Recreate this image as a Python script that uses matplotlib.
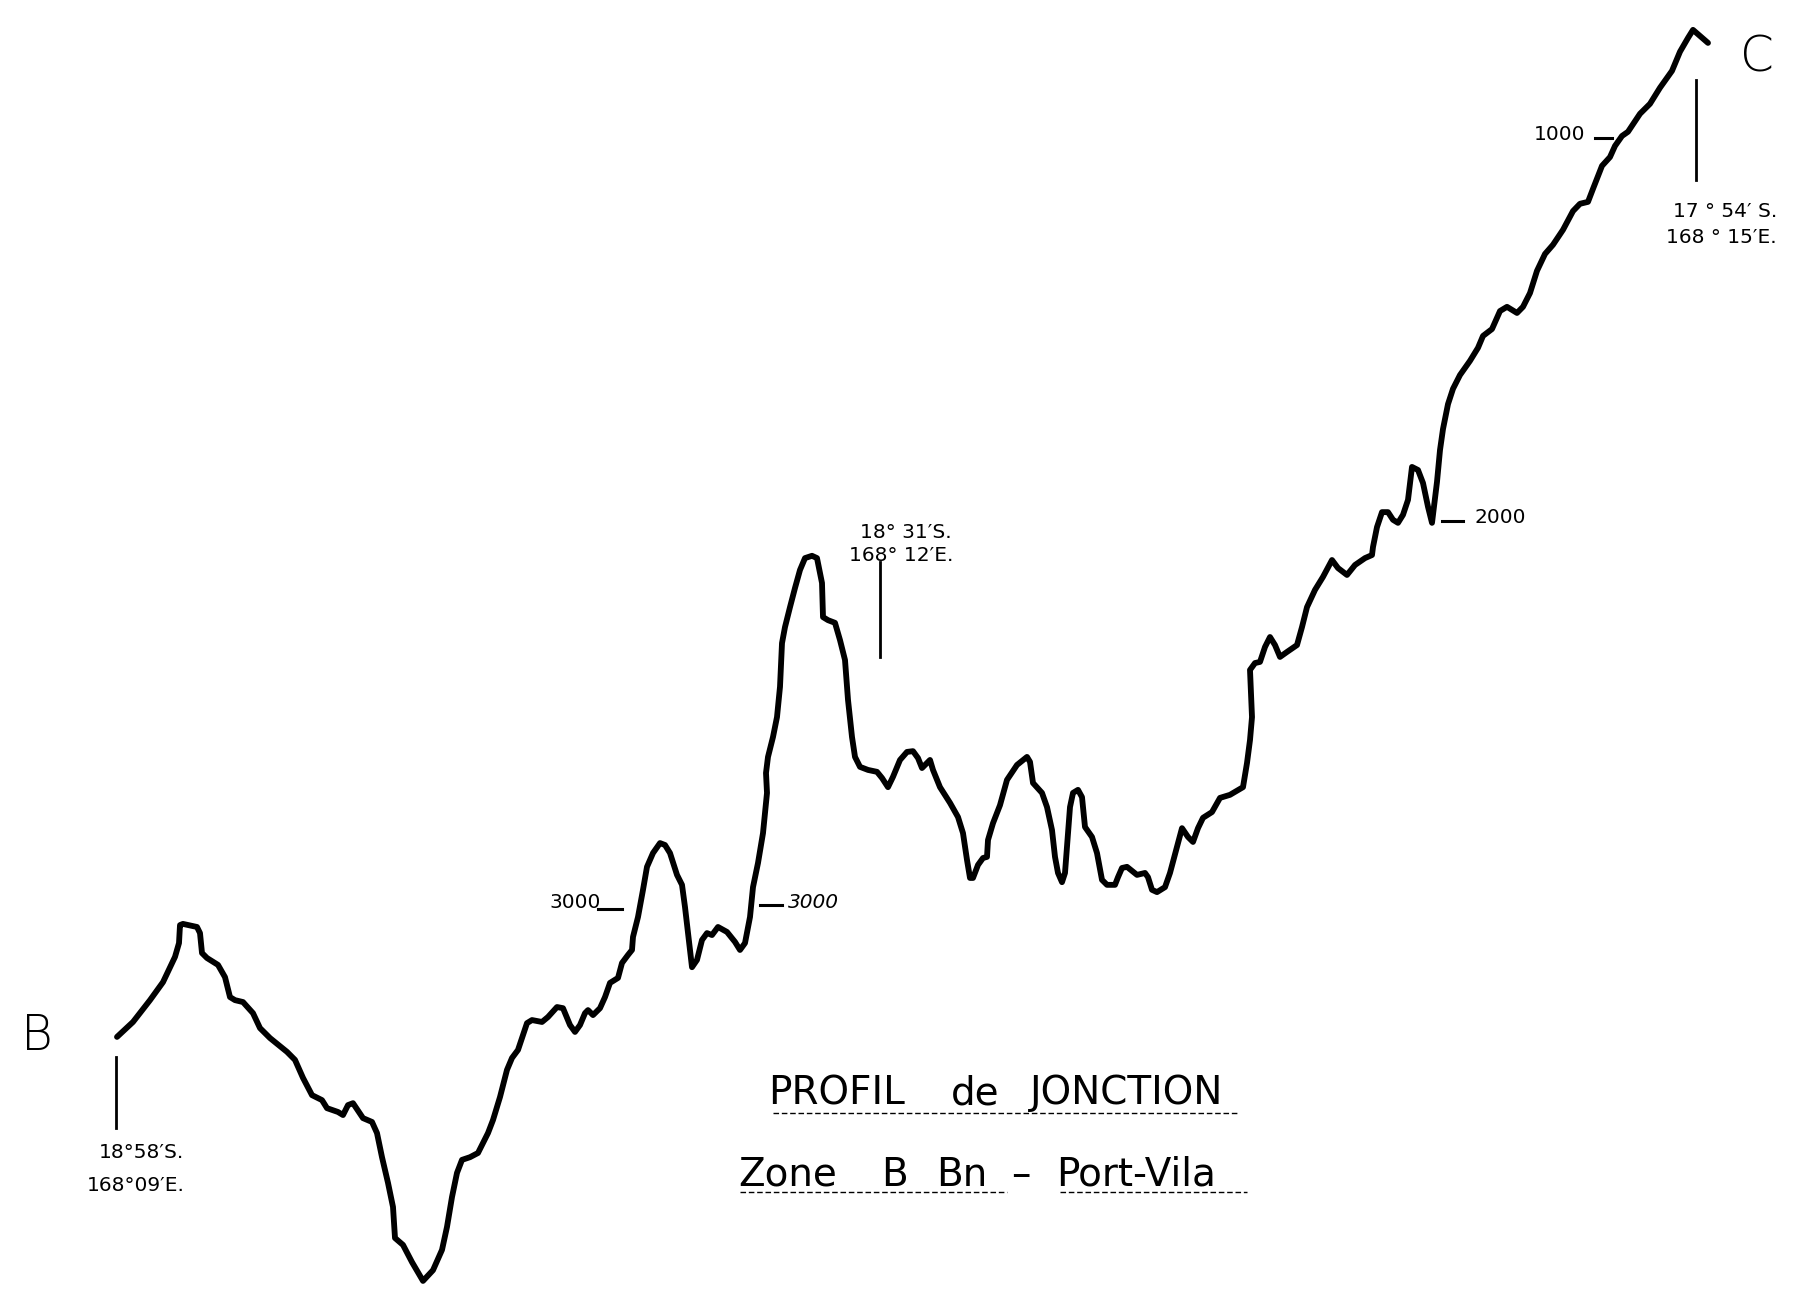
import matplotlib
matplotlib.use("Agg")
import matplotlib.pyplot as plt

# Profile B -> C : distance along track (arbitrary units) and depth (m)
distance = [117, 133, 150, 163, 175, 179, 180, 183, 197, 200, 202, 207, 218, 225, 230, 235, 243, 253, 260, 270,
            287, 295, 303, 312, 322, 327, 338, 343, 348, 353, 363, 372, 377, 382, 388, 393, 395, 403, 412, 423,
            433, 442, 447, 452, 457, 462, 470, 478, 482, 488, 493, 500, 507, 512, 518, 527, 532, 542, 548, 557,
            563, 570, 575, 580, 585, 588, 593, 600, 605, 610, 618, 622, 628, 632, 633, 638, 643, 647, 653, 660,
            665, 670, 677, 682, 685, 688, 692, 697, 702, 707, 712, 718, 727, 735, 740, 745, 750, 753, 758, 763,
            767, 766, 768, 773, 777, 780, 782, 785, 790, 795, 800, 805, 812, 817, 822, 823, 828, 835, 840, 845,
            848, 852, 855, 860, 868, 877, 882, 888, 893, 900, 907, 913, 918, 922, 927, 930, 933, 940, 950, 958,
            963, 967, 970, 973, 978, 983, 987, 988, 993, 1000, 1007, 1017, 1027, 1030, 1033, 1042, 1047, 1052, 1055, 1058,
            1062, 1065, 1067, 1070, 1073, 1078, 1082, 1085, 1092, 1097, 1102, 1107, 1115, 1118, 1122, 1127, 1137, 1145, 1148, 1152,
            1157, 1165, 1170, 1177, 1182, 1188, 1193, 1198, 1203, 1212, 1220, 1230, 1243, 1247, 1250, 1252, 1250, 1255, 1260, 1265,
            1270, 1275, 1280, 1287, 1297, 1302, 1307, 1315, 1323, 1332, 1338, 1347, 1355, 1365, 1372, 1373, 1377, 1382, 1388, 1393,
            1398, 1403, 1408, 1412, 1418, 1423, 1428, 1432, 1437, 1440, 1443, 1448, 1453, 1460, 1470, 1478, 1483, 1492, 1500, 1507,
            1517, 1523, 1530, 1537, 1545, 1553, 1563, 1573, 1580, 1588, 1593, 1602, 1610, 1615, 1622, 1628, 1640, 1650, 1660, 1672,
            1680, 1688, 1693, 1700, 1708]
depth = [3347, 3308, 3251, 3204, 3138, 3102, 3055, 3052, 3060, 3076, 3128, 3141, 3159, 3191, 3243, 3251, 3256, 3285, 3324, 3350,
         3386, 3407, 3454, 3499, 3512, 3533, 3543, 3551, 3525, 3520, 3559, 3569, 3598, 3661, 3728, 3791, 3872, 3890, 3935, 3984,
         3956, 3903, 3843, 3765, 3702, 3668, 3661, 3650, 3629, 3598, 3564, 3504, 3433, 3402, 3381, 3311, 3303, 3308, 3295, 3269,
         3272, 3316, 3334, 3316, 3285, 3277, 3290, 3272, 3243, 3206, 3193, 3154, 3133, 3120, 3086, 3034, 2963, 2903, 2867, 2841,
         2846, 2867, 2924, 2950, 3008, 3076, 3165, 3146, 3094, 3076, 3081, 3060, 3073, 3099, 3120, 3102, 3034, 2956, 2893, 2815,
         2710, 2658, 2616, 2564, 2512, 2433, 2319, 2277, 2225, 2175, 2128, 2097, 2091, 2097, 2162, 2251, 2259, 2266, 2311, 2363,
         2467, 2564, 2616, 2642, 2650, 2655, 2671, 2695, 2668, 2624, 2603, 2601, 2619, 2645, 2632, 2624, 2650, 2695, 2736, 2773,
         2815, 2885, 2932, 2932, 2898, 2880, 2877, 2833, 2789, 2742, 2676, 2637, 2616, 2629, 2684, 2710, 2747, 2807, 2877, 2919,
         2943, 2919, 2850, 2747, 2710, 2702, 2721, 2799, 2825, 2867, 2937, 2950, 2950, 2930, 2906, 2903, 2924, 2919, 2930, 2963,
         2969, 2956, 2919, 2851, 2802, 2825, 2838, 2802, 2775, 2760, 2723, 2715, 2695, 2632, 2572, 2512, 2389, 2371, 2368, 2329,
         2303, 2324, 2355, 2342, 2324, 2277, 2225, 2180, 2146, 2102, 2123, 2141, 2115, 2097, 2089, 2068, 2016, 1977, 1977, 1997,
         2005, 1984, 1945, 1859, 1867, 1901, 1963, 2005, 1898, 1815, 1760, 1695, 1655, 1619, 1582, 1548, 1517, 1499, 1452, 1441,
         1457, 1441, 1405, 1347, 1303, 1279, 1240, 1191, 1172, 1167, 1133, 1073, 1050, 1021, 995, 984, 937, 911, 869, 825,
         775, 739, 718, 734, 752]

# Depth marks written along the profile
depth_marks = [1000, 2000, 3000, 3000]
depth_mark_text = ["1000", "2000", "3000", "3000"]

# Position marks (labels at B, mid-profile, C)
pos_labels = [("18°58\u2032S.", "168°09\u2032E."),
              ("18° 31\u2032S.", "168° 12\u2032E."),
              ("17 ° 54\u2032 S.", "168 ° 15\u2032E.")]

title_words_1 = ["PROFIL", "de", "JONCTION"]
title_words_2 = ["Zone", "B", "Bn", "\u2013", "Port-Vila"]

FONT = "DejaVu Sans"
plt.rcParams["font.family"] = [FONT]

fig = plt.figure(figsize=(17.94, 12.97), dpi=100)
ax = fig.add_axes([0, 0, 1, 1])
ax.set_xlim(0, 1794)
ax.set_ylim(4026, 640)
ax.axis("off")

ax.plot(distance, depth, color="black", lw=4.2, solid_capstyle="round", solid_joinstyle="round")

# end letters
ax.text(37, 3345, "B", fontsize=35, ha="center", va="center", fontweight="light")
ax.text(1757, 791, "C", fontsize=35, ha="center", va="center", fontweight="light")

small = 14.5
# position ticks
ax.plot([116, 116], [3400, 3585], color="black", lw=2.0)
ax.text(141, 3650, pos_labels[0][0], fontsize=small, ha="center", va="center")
ax.text(136, 3734, pos_labels[0][1], fontsize=small, ha="center", va="center")

ax.plot([880, 880], [2107, 2355], color="black", lw=2.0)
ax.text(906, 2029, pos_labels[1][0], fontsize=small, ha="center", va="center")
ax.text(901, 2089, pos_labels[1][1], fontsize=small, ha="center", va="center")

ax.plot([1696, 1696], [849, 1110], color="black", lw=2.0)
ax.text(1777, 1193, pos_labels[2][0], fontsize=small, ha="right", va="center")
ax.text(1777, 1261, pos_labels[2][1], fontsize=small, ha="right", va="center")

# depth marks
ax.plot([1595, 1612], [depth_marks[0]] * 2, color="black", lw=2.2)
ax.text(1585, depth_marks[0] - 8, depth_mark_text[0], fontsize=small, ha="right", va="center")
ax.plot([1442, 1463], [depth_marks[1]] * 2, color="black", lw=2.2)
ax.text(1475, depth_marks[1] - 8, depth_mark_text[1], fontsize=small, ha="left", va="center")
ax.plot([598, 622], [depth_marks[2] + 13] * 2, color="black", lw=2.2)
ax.text(601, depth_marks[2] - 3, depth_mark_text[2], fontsize=small, ha="right", va="center")
ax.plot([760, 782], [depth_marks[3] + 3] * 2, color="black", lw=2.2)
ax.text(788, depth_marks[3] - 3, depth_mark_text[3], fontsize=small, ha="left", va="center",
        fontstyle="italic")

# title
tsize = 28
for w, x in zip(title_words_1, [768, 951, 1030]):
    ax.text(x, 3494, w, fontsize=tsize, ha="left", va="center")
ax.plot([773, 1238], [3546, 3546], color="black", lw=1.0, ls=(0, (4, 2)))
for w, x in zip(title_words_2, [738, 881, 936, 1011, 1056]):
    ax.text(x, 3707, w, fontsize=tsize, ha="left", va="center")
ax.plot([740, 1007], [3752, 3752], color="black", lw=1.0, ls=(0, (4, 2)))
ax.plot([1060, 1247], [3752, 3752], color="black", lw=1.0, ls=(0, (4, 2)))

fig.savefig("out.png", dpi=100, facecolor="white")
